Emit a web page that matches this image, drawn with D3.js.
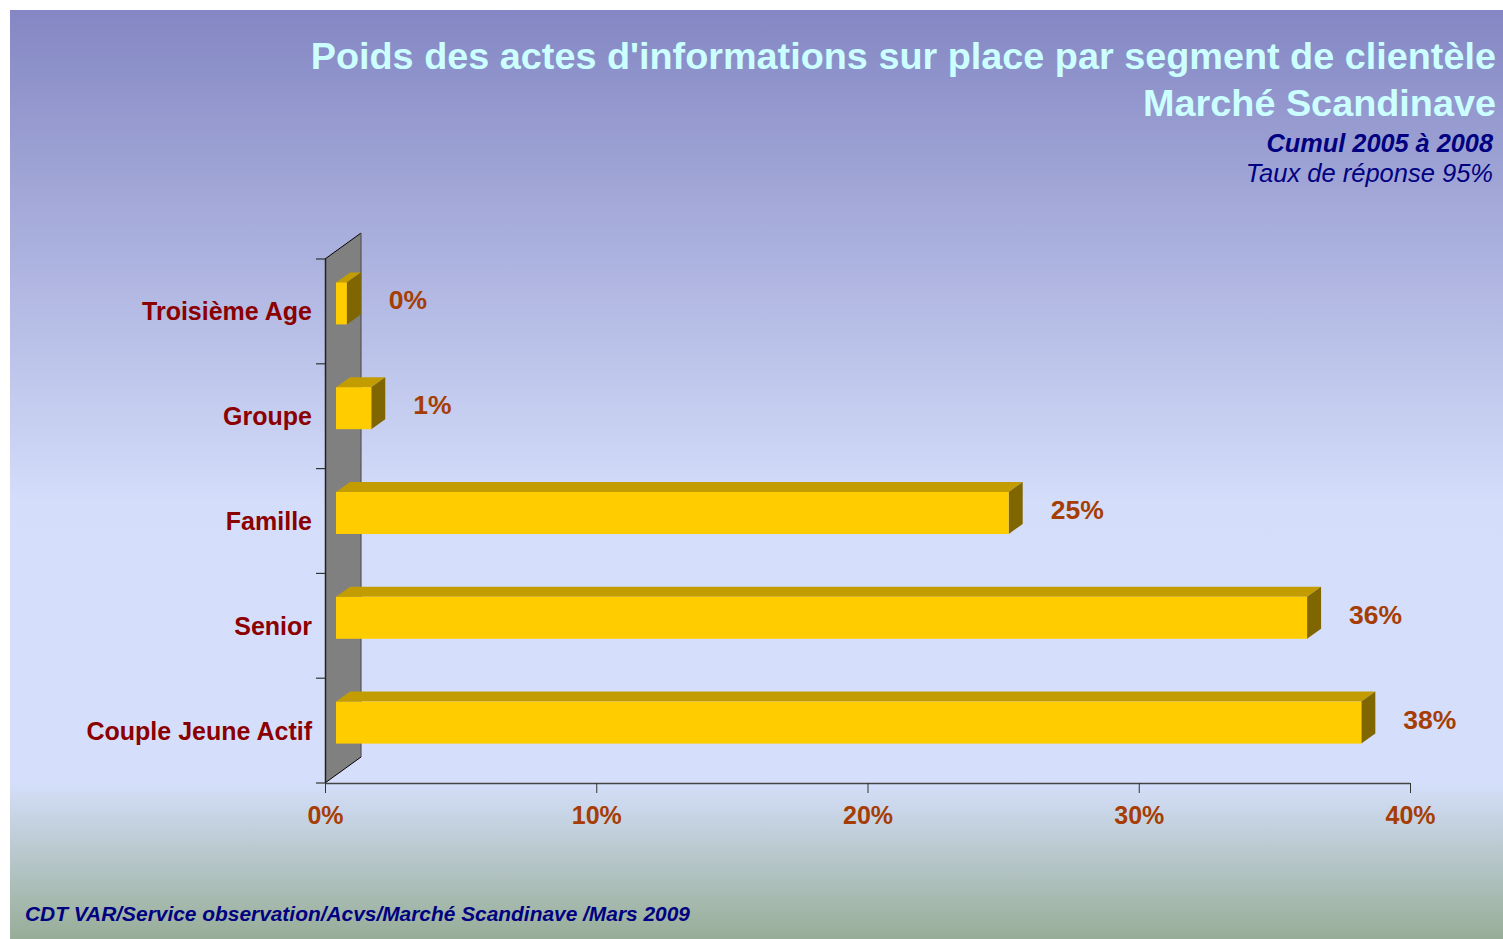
<!DOCTYPE html>
<html><head><meta charset="utf-8">
<script src="https://cdn.jsdelivr.net/npm/d3@7"></script>
<style>html,body{margin:0;padding:0;background:#fff;}svg{display:block;}</style>
</head><body>
<svg id="c" width="1503" height="939"></svg>
<script>
const categories = ["Troisième Age","Groupe","Famille","Senior","Couple Jeune Actif"];
const values = [0.4, 1.3, 24.8, 35.8, 37.8];
const valueLabels = ["0%","1%","25%","36%","38%"];
const xTicks = [0,10,20,30,40];
const xTickLabels = ["0%","10%","20%","30%","40%"];
const titleLines = ["Poids des actes d'informations sur place par segment de clientèle","Marché Scandinave"];
const subtitle1 = "Cumul 2005 à 2008";
const subtitle2 = "Taux de réponse 95%";
const footer = "CDT VAR/Service observation/Acvs/Marché Scandinave /Mars 2009";

const svg = d3.select("#c");
const F = "Arial, 'Liberation Sans', sans-serif";

// background
const defs = svg.append("defs");
const g = defs.append("linearGradient").attr("id","bg").attr("x1",0).attr("y1",0).attr("x2",0).attr("y2",1);
[[0,"#8487c3"],[0.53,"#d4ddfa"],[0.83,"#d5dffb"],[1,"#97ad97"]].forEach(([o,c])=>g.append("stop").attr("offset",o).attr("stop-color",c));
svg.append("rect").attr("x",10).attr("y",10).attr("width",1493).attr("height",929).attr("fill","url(#bg)");

// scales
const x = d3.scaleLinear().domain([0,40]).range([325,1410]);
const y = d3.scaleBand().domain(categories).range([259,783]).paddingInner(0).paddingOuter(0);
const DX = 36, DY = -26;       // wall depth
const bdx = 14, bdy = -10;     // bar depth
const ox = 11, oy = -8;        // bar offset inside depth
const barH = 42;

// wall
const x0 = x(0), yT = y.range()[0], yB = y.range()[1];
svg.append("path").attr("d",`M${x0},${yT}L${x0+DX},${yT+DY}L${x0+DX},${yB+DY}L${x0},${yB}Z`)
  .attr("fill","#808080").attr("stroke","none");
svg.append("path").attr("d",`M${x0},${yT}L${x0+DX},${yT+DY}`).attr("stroke","#000").attr("stroke-width",1).attr("fill","none");
svg.append("path").attr("d",`M${x0},${yB}L${x0+DX},${yB+DY}`).attr("stroke","#000").attr("stroke-width",1).attr("fill","none");
svg.append("path").attr("d",`M${x0+DX},${yT+DY}L${x0+DX},${yB+DY}`).attr("stroke","#555").attr("stroke-width",1.2).attr("fill","none");

// axes
const xAxis = d3.axisBottom(x).tickValues(xTicks).tickSize(10).tickFormat((d,i)=>xTickLabels[i]);
const gx = svg.append("g").attr("transform",`translate(0,${yB})`).call(xAxis);
gx.select(".domain").attr("stroke","#444").attr("stroke-width",1.5).attr("d",`M${x0},0.5H${x(40)}`);
gx.selectAll(".tick line").attr("stroke","#333").attr("y1",0);
gx.selectAll(".tick text").attr("font-family",F).attr("font-weight","bold").attr("font-size","25px")
  .attr("fill","#A53D04").attr("dy","0").attr("y",41);

const yAxis = d3.axisLeft(y).tickSize(0).tickFormat("");
const gy = svg.append("g").attr("transform",`translate(${x0},0)`).call(yAxis);
gy.select(".domain").attr("stroke","#222").attr("stroke-width",1.5).attr("d",`M0.5,${yT}V${yB}`);
// band boundary ticks
const bounds = categories.map(c=>y(c)).concat([yB]);
svg.append("g").selectAll("line").data(bounds).join("line")
  .attr("x1",x0-9).attr("x2",x0).attr("y1",d=>d).attr("y2",d=>d).attr("stroke","#333").attr("stroke-width",1.2);

// category labels
svg.append("g").selectAll("text").data(categories).join("text")
  .attr("x",312).attr("y",d=>y(d)+y.bandwidth()/2+9)
  .attr("text-anchor","end").attr("font-family",F).attr("font-weight","bold").attr("font-size","25px")
  .attr("fill","#8B0000").text(d=>d);

// bars
const bars = svg.append("g").selectAll("g").data(categories).join("g");
bars.each(function(c,i){
  const gg = d3.select(this);
  const fx0 = x(0)+ox, fx1 = x(values[i])+ox;
  const fy0 = y(c)+y.bandwidth()/2 - barH/2 + oy, fy1 = fy0+barH;
  // top
  gg.append("path").attr("d",`M${fx0},${fy0}L${fx0+bdx},${fy0+bdy}L${fx1+bdx},${fy0+bdy}L${fx1},${fy0}Z`).attr("fill","#C29C00");
  // side
  gg.append("path").attr("d",`M${fx1},${fy0}L${fx1+bdx},${fy0+bdy}L${fx1+bdx},${fy1+bdy}L${fx1},${fy1}Z`).attr("fill","#806600");
  // front
  gg.append("rect").attr("x",fx0).attr("y",fy0).attr("width",fx1-fx0).attr("height",barH).attr("fill","#FFCC00");
  // value label
  gg.append("text").attr("x",fx1+bdx+28).attr("y",fy0+barH/2+6)
    .attr("font-family",F).attr("font-weight","bold").attr("font-size","26.5px").attr("fill","#A53D04").text(valueLabels[i]);
});

// titles
svg.append("text").attr("x",1496).attr("y",69).attr("text-anchor","end").attr("font-family",F)
  .attr("font-weight","bold").attr("font-size","37.8px").attr("fill","#CCFFFF").text(titleLines[0]);
svg.append("text").attr("x",1496).attr("y",116).attr("text-anchor","end").attr("font-family",F)
  .attr("font-weight","bold").attr("font-size","37.8px").attr("fill","#CCFFFF").text(titleLines[1]);
svg.append("text").attr("x",1493).attr("y",151.5).attr("text-anchor","end").attr("font-family",F)
  .attr("font-weight","bold").attr("font-style","italic").attr("font-size","25.3px").attr("fill","#000080").text(subtitle1);
svg.append("text").attr("x",1493).attr("y",181.5).attr("text-anchor","end").attr("font-family",F)
  .attr("font-style","italic").attr("font-size","25.5px").attr("fill","#000080").text(subtitle2);
svg.append("text").attr("x",25).attr("y",920.5).attr("font-family",F)
  .attr("font-weight","bold").attr("font-style","italic").attr("font-size","20.9px").attr("fill","#000080").text(footer);
</script>
</body></html>
